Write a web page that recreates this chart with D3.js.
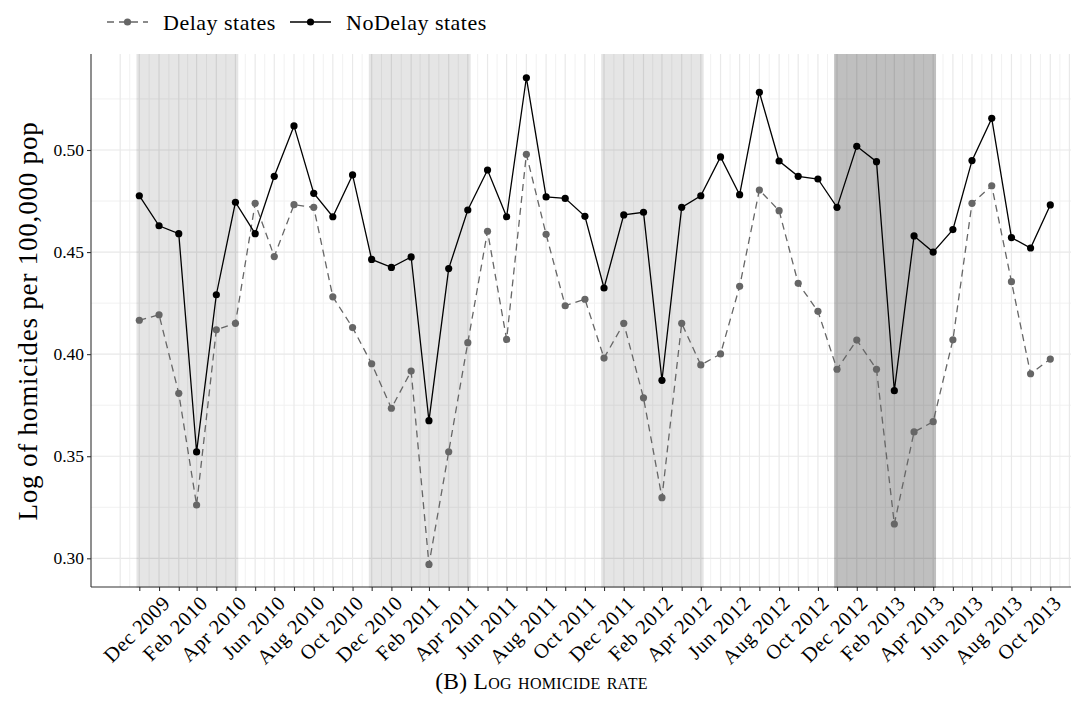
<!DOCTYPE html>
<html>
<head>
<meta charset="utf-8">
<script src="https://cdn.jsdelivr.net/npm/d3@7"></script>
<style>
  html, body { margin: 0; padding: 0; background: #fff; }
  svg { display: block; }
  text { font-family: "Liberation Serif", "DejaVu Serif", serif; fill: #000; }
</style>
</head>
<body>
<svg id="chart" width="1083" height="720"></svg>
<script>
// Monthly observations (each month is plotted at its last day)
const months = [
  "2009-11","2009-12","2010-01","2010-02","2010-03","2010-04","2010-05","2010-06","2010-07","2010-08","2010-09","2010-10",
  "2010-11","2010-12","2011-01","2011-02","2011-03","2011-04","2011-05","2011-06","2011-07","2011-08","2011-09","2011-10",
  "2011-11","2011-12","2012-01","2012-02","2012-03","2012-04","2012-05","2012-06","2012-07","2012-08","2012-09","2012-10",
  "2012-11","2012-12","2013-01","2013-02","2013-03","2013-04","2013-05","2013-06","2013-07","2013-08","2013-09","2013-10"
];

// Log of homicides per 100,000 population
const delayStates = [
  0.4166,0.4193,0.3808,0.3261,0.4119,0.4151,0.4739,0.4478,0.4732,0.4719,0.4281,0.4130,
  0.3953,0.3735,0.3917,0.2970,0.3522,0.4056,0.4602,0.4072,0.4979,0.4587,0.4237,0.4269,
  0.3981,0.4151,0.3786,0.3297,0.4151,0.3947,0.4001,0.4332,0.4804,0.4703,0.4347,0.4210,
  0.3926,0.4069,0.3926,0.3168,0.3619,0.3669,0.4070,0.4739,0.4825,0.4355,0.3904,0.3976
];
const noDelayStates = [
  0.4776,0.4629,0.4590,0.3521,0.4291,0.4744,0.4590,0.4871,0.5118,0.4788,0.4673,0.4878,
  0.4464,0.4425,0.4476,0.3674,0.4419,0.4706,0.4902,0.4673,0.5354,0.4770,0.4763,0.4675,
  0.4324,0.4682,0.4695,0.3872,0.4719,0.4776,0.4966,0.4781,0.5283,0.4946,0.4871,0.4858,
  0.4719,0.5018,0.4943,0.3821,0.4579,0.4500,0.4610,0.4948,0.5155,0.4571,0.4520,0.4731
];

// Shaded winter periods
const periods = [
  { from: "2009-11", to: "2010-04", tone: "light" },
  { from: "2010-11", to: "2011-04", tone: "light" },
  { from: "2011-11", to: "2012-04", tone: "light" },
  { from: "2012-11", to: "2013-04", tone: "dark" }
];

const yTicks = [0.30, 0.35, 0.40, 0.45, 0.50];
const yMinor = [0.325, 0.375, 0.425, 0.475, 0.525];
const seriesNames = ["Delay states", "NoDelay states"];
const caption = "(B) Log homicide rate";
const yTitle = "Log of homicides per 100,000 pop";

// ---- helpers ----
const monthEnd = s => { const [y, m] = s.split("-").map(Number); return new Date(y, m, 0); };
const dates = months.map(monthEnd);
const DAY = 864e5;

// ---- layout ----
const panel = { left: 91, right: 1071, top: 54, bottom: 587 };

const x = d3.scaleTime()
  .domain([dates[0], dates[dates.length - 1]])
  .range([139.3, 1050.3]);

const y = d3.scaleLinear()
  .domain([0.30, 0.50])
  .range([558.3, 150]);

const svg = d3.select("#chart");

// ---- grid ----
const grid = svg.append("g");
const majorX = [new Date(dates[0].getFullYear(), dates[0].getMonth(), 0)]
  .concat(dates)
  .concat([new Date(dates[dates.length-1].getFullYear(), dates[dates.length-1].getMonth() + 2, 0)]);
const minorX = d3.pairs(majorX).map(([a, b]) => new Date((+a + +b) / 2));

grid.selectAll("line.ymin").data(yMinor).join("line")
  .attr("x1", panel.left).attr("x2", panel.right)
  .attr("y1", d => y(d)).attr("y2", d => y(d))
  .attr("stroke", "#f1f1f1").attr("stroke-width", 1);
grid.selectAll("line.xmin").data(minorX.filter(d => x(d) > panel.left && x(d) < panel.right)).join("line")
  .attr("x1", d => x(d)).attr("x2", d => x(d))
  .attr("y1", panel.top).attr("y2", panel.bottom)
  .attr("stroke", "#f1f1f1").attr("stroke-width", 1);
grid.selectAll("line.ymaj").data(yTicks).join("line")
  .attr("class", "ymaj")
  .attr("x1", panel.left).attr("x2", panel.right)
  .attr("y1", d => y(d)).attr("y2", d => y(d))
  .attr("stroke", "#e8e8e8").attr("stroke-width", 1.2);
grid.selectAll("line.xmaj").data(majorX.filter(d => x(d) > panel.left && x(d) < panel.right)).join("line")
  .attr("class", "xmaj")
  .attr("x1", d => x(d)).attr("x2", d => x(d))
  .attr("y1", panel.top).attr("y2", panel.bottom)
  .attr("stroke", "#e9e9e9").attr("stroke-width", 1.2);

// ---- axes ----
const xAxis = d3.axisBottom(x)
  .tickValues(dates)
  .tickSize(4)
  .tickFormat(() => "");
const gx = svg.append("g").attr("transform", `translate(0,${panel.bottom})`).call(xAxis);
gx.select(".domain").remove();
gx.selectAll(".tick line").attr("stroke", "#333").attr("stroke-width", 1.1);

svg.append("g").selectAll("text").data(dates.filter((d, i) => i % 2 === 1)).join("text")
  .attr("transform", d => `translate(${x(d) + 2},${panel.bottom + 7}) rotate(-45)`)
  .attr("text-anchor", "end")
  .attr("dy", "0.72em")
  .style("font-size", "20.5px")
  .style("letter-spacing", "0.6px")
  .text(d3.timeFormat("%b %Y"));

const yAxis = d3.axisLeft(y).tickValues(yTicks).tickSize(4).tickFormat(d3.format(".2f"));
const gy = svg.append("g").attr("transform", `translate(${panel.left},0)`).call(yAxis);
gy.select(".domain").remove();
gy.selectAll(".tick line").attr("stroke", "#333").attr("stroke-width", 1.1);
gy.selectAll(".tick text")
  .attr("x", -7)
  .style("font-family", "'Liberation Serif', serif")
  .style("font-size", "17.5px")
  .attr("fill", "#222");

// axis lines
svg.append("line")
  .attr("x1", panel.left).attr("x2", panel.left)
  .attr("y1", panel.top).attr("y2", panel.bottom)
  .attr("stroke", "#333").attr("stroke-width", 1.1);
svg.append("line")
  .attr("x1", panel.left).attr("x2", panel.right)
  .attr("y1", panel.bottom).attr("y2", panel.bottom)
  .attr("stroke", "#333").attr("stroke-width", 1.1);

// ---- shaded periods ----
const pad = 4.5 * DAY;
svg.append("g").selectAll("rect").data(periods).join("rect")
  .attr("x", d => x(new Date(+monthEnd(d.from) - pad)))
  .attr("width", d => x(new Date(+monthEnd(d.to) + pad)) - x(new Date(+monthEnd(d.from) - pad)))
  .attr("y", panel.top)
  .attr("height", panel.bottom - panel.top + 1)
  .attr("fill", "#000")
  .attr("fill-opacity", d => d.tone === "dark" ? 0.25 : 0.1);

// ---- series ----
const series = [
  { name: seriesNames[0], values: delayStates, color: "#666666", dash: "7,5" },
  { name: seriesNames[1], values: noDelayStates, color: "#000000", dash: null }
];
const line = d3.line().x((d, i) => x(dates[i])).y(d => y(d));

series.forEach(s => {
  const g = svg.append("g");
  g.append("path")
    .attr("d", line(s.values))
    .attr("fill", "none")
    .attr("stroke", s.color)
    .attr("stroke-width", 1.3)
    .attr("stroke-dasharray", s.dash);
  g.selectAll("circle").data(s.values).join("circle")
    .attr("cx", (d, i) => x(dates[i]))
    .attr("cy", d => y(d))
    .attr("r", 3.6)
    .attr("fill", s.color);
});

// ---- legend ----
const legend = svg.append("g").attr("transform", "translate(0,22)");
const keyPos = [{ x0: 107, tx: 163 }, { x0: 290, tx: 346 }];
series.forEach((s, i) => {
  const k = keyPos[i];
  legend.append("line")
    .attr("x1", k.x0).attr("x2", k.x0 + 41)
    .attr("y1", 0).attr("y2", 0)
    .attr("stroke", s.color).attr("stroke-width", 1.3)
    .attr("stroke-dasharray", s.dash);
  legend.append("circle")
    .attr("cx", k.x0 + 20.5).attr("cy", 0).attr("r", 3.6).attr("fill", s.color);
  legend.append("text")
    .attr("x", k.tx).attr("y", 7.5)
    .style("font-size", "22px")
    .style("letter-spacing", "0.5px")
    .text(s.name);
});

// ---- titles ----
svg.append("text")
  .attr("transform", "translate(37,321) rotate(-90)")
  .attr("text-anchor", "middle")
  .style("font-size", "27px")
  .style("letter-spacing", "0.8px")
  .text(yTitle);

svg.append("text")
  .attr("x", 541.5).attr("y", 689)
  .attr("text-anchor", "middle")
  .style("font-size", "23.5px")
  .style("font-variant", "small-caps")
  .style("letter-spacing", "0.3px")
  .text(caption);
</script>
</body>
</html>
